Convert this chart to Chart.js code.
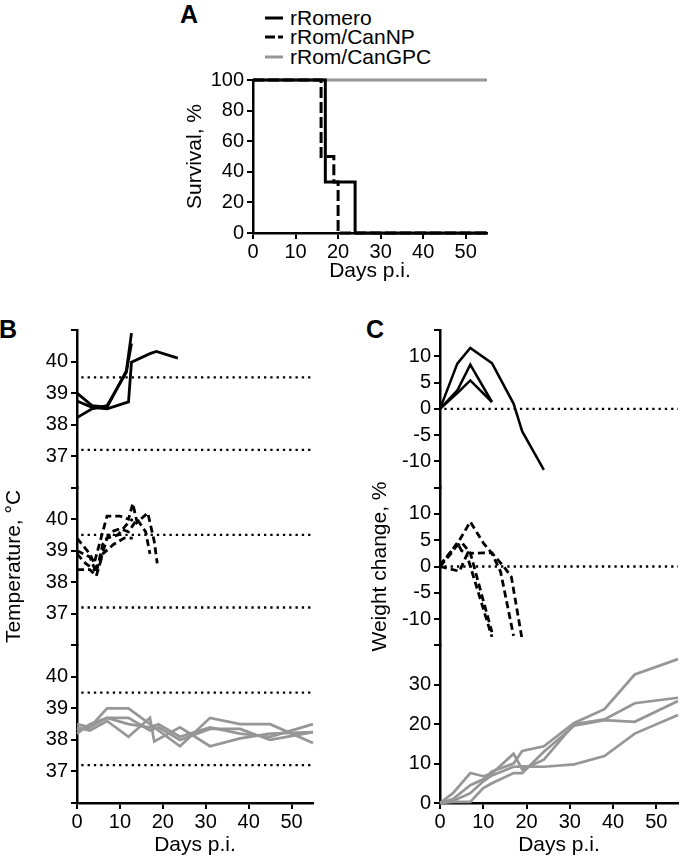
<!DOCTYPE html>
<html>
<head>
<meta charset="utf-8">
<script src="https://cdn.jsdelivr.net/npm/chart.js@4.4.1/dist/chart.umd.min.js"></script>
<style>
  body { margin: 0; background: #fff; width: 680px; height: 859px; position: relative; overflow: hidden;
         font-family: "Liberation Sans", Arial, sans-serif; color: #000; }
  canvas { position: absolute; }
  .tag { position: absolute; font-weight: bold; font-size: 25px; line-height: 25px; }
  #legendA { position: absolute; left: 265px; top: 8px; font-size: 21px; }
  #legendA div { display: flex; align-items: center; height: 19.5px; white-space: nowrap; }
  #legendA svg { margin-right: 7px; }
</style>
</head>
<body>
<div class="tag" style="left:180px;top:2px">A</div>
<div class="tag" style="left:-1px;top:317px">B</div>
<div class="tag" style="left:366px;top:317px">C</div>
<div id="legendA"></div>
<canvas id="chartA" width="330" height="225" style="left:170px;top:60px"></canvas>
<canvas id="chartB" width="330" height="549" style="left:0;top:310px"></canvas>
<canvas id="chartC" width="330" height="549" style="left:350px;top:310px"></canvas>
<script>
/* ================= DATA ================= */
const groups = ["rRomero", "rRom/CanNP", "rRom/CanGPC"];
const xTicks = [0, 10, 20, 30, 40, 50];
const dayMax = 55;
const refStart = 1;

// A - survival
const survTicks = [0, 20, 40, 60, 80, 100];
const survRomeroDays = [0, 17, 24, 55];
const survRomero = [100, 33.3, 0, 0];
const survNPDays = [0, 16, 19, 20, 55];
const survNP = [100, 50, 33.3, 0, 0];
const survGPCDays = [0, 55];
const survGPC = [100, 100];

// B - temperature (one block per virus)
const tempTicks = [36, 37, 38, 39, 40, 41];
const tempLabels = [37, 38, 39, 40];
const tempNormal = [39.5, 37.2];

const tempRomeroDays = [
  [0, 3.5, 7, 11.5, 12.7],
  [0, 3.5, 7, 12, 12.7, 17, 18.5, 23.5],
  [0, 3.5, 7, 11.5, 12.7]
];
const tempRomero = [
  [39.0, 38.6, 38.55, 39.7, 40.9],
  [38.75, 38.55, 38.5, 38.72, 39.98, 40.25, 40.32, 40.11],
  [38.22, 38.5, 38.6, 39.66, 40.57]
];

const tempNPDays = [
  [0, 3, 4, 6, 7, 10, 12, 13, 14, 16.5, 18, 18.7],
  [0, 3, 4.5, 6, 8, 10, 12, 14, 16, 17],
  [0, 3, 4.5, 6, 8.5, 11, 13],
  [0, 2, 4, 5.5, 7, 9.5, 12, 13]
];
const tempNP = [
  [39.4, 38.9, 38.6, 39.6, 40.1, 40.1, 40.0, 40.5, 39.9, 40.2, 39.3, 38.6],
  [39.0, 38.8, 38.3, 39.2, 39.6, 39.7, 39.6, 40.0, 39.6, 38.9],
  [38.4, 38.4, 38.2, 38.9, 39.2, 39.4, 39.4],
  [38.9, 38.6, 38.4, 38.7, 39.4, 39.5, 39.9, 40.0]
];

const tempGPCDays = [
  [0, 3, 7, 12, 17, 24, 31, 38, 45, 55],
  [0, 3, 7, 12, 17, 19, 24, 31, 38, 45, 55],
  [0, 3, 7, 12, 17, 18, 24, 31, 38, 45, 55],
  [0, 3, 7, 12, 17, 19, 24, 31, 38, 45, 55]
];
const tempGPC = [
  [38.3, 38.4, 39.0, 39.0, 38.5, 37.8, 38.7, 38.5, 38.5, 37.9],
  [38.5, 38.4, 38.7, 38.7, 38.3, 38.4, 38.0, 38.35, 38.35, 38.0, 38.25],
  [38.4, 38.3, 38.6, 38.1, 38.7, 37.95, 38.4, 37.8, 38.05, 38.2, 38.25],
  [38.2, 38.5, 38.7, 38.5, 38.4, 38.5, 38.1, 38.4, 38.2, 38.1, 38.5]
];

// C - weight change
const weightTicks = [-15, -10, -5, 0, 5, 10, 15];
const weightLabels = [-10, -5, 0, 5, 10];
const gainTicks = [0, 10, 20, 30, 40];
const gainLabels = [0, 10, 20, 30];
const weightBase = [0];

const weightRomeroDays = [
  [0, 4, 7, 12, 17, 19, 24],
  [0, 4, 7, 12],
  [0, 4, 7, 12]
];
const weightRomero = [
  [0, 8.6, 11.6, 8.7, 1.0, -4.3, -11.6],
  [0, 3.5, 8.4, 1.3],
  [0, 3.0, 5.4, 1.3]
];

const weightNPDays = [
  [0, 3, 7, 10, 12, 14, 17],
  [0, 4, 5, 7, 10, 12, 15, 16.5, 19],
  [0, 4.5, 6.2, 12],
  [0, 3, 5, 7, 12]
];
const weightNP = [
  [0, 2.9, 8.5, 4.5, 2.5, -1.0, -13.2],
  [0, 4.5, 3.0, 2.5, 2.6, 2.6, -0.3, -2.0, -14.0],
  [0, -0.9, 2.2, -13.4],
  [0.3, 3.3, 4.6, 2.6, -12.5]
];

const weightGPCDays = [0, 3, 7, 10, 12, 17, 19, 24, 31, 38, 45, 55];
const weightGPC = [
  [0, 1.0, 4.5, 6.0, 8.0, 10.0, 13.2, 14.4, 20.3, 23.8, 32.6, 36.5],
  [0, 2.5, 7.6, 6.8, 7.5, 12.5, 8.5, 11.0, 20.0, 21.2, 25.3, 26.7],
  [0, 0.3, 0.3, 3.8, 5.0, 7.6, 7.6, 13.0, 19.6, 21.0, 20.6, 25.9],
  [0, 0.5, 2.5, 5.5, 7.0, 9.2, 9.3, 9.2, 9.8, 11.9, 17.6, 22.3]
];

/* ================= STYLE ================= */
const groupColor = ["#000000", "#000000", "#969696"];
const groupDash = [[], [7, 4], []];
const axisWidth = 2.5;
const tickFont = 20;
const titleFont = 21;

Chart.defaults.font.family = '"Liberation Sans", Arial, sans-serif';
Chart.defaults.color = "#000";

const pts = (days, vals) => days.map((d, i) => ({ x: d, y: vals[i] }));

function lineSet(days, vals, group, axisId, width, dash) {
  return {
    label: "",
    data: pts(days, vals),
    yAxisID: axisId,
    borderColor: groupColor[group],
    borderDash: dash || groupDash[group],
    borderWidth: width,
    pointRadius: 0,
    tension: 0,
    fill: false,
    clip: false
  };
}

function refLine(value, axisId) {
  return {
    label: "",
    data: [{ x: refStart, y: value }, { x: dayMax, y: value }],
    yAxisID: axisId,
    borderColor: "#000",
    borderWidth: 2.3,
    borderDash: [2.3, 4],
    pointRadius: 0,
    clip: false
  };
}

function xAxis(height, titlePad) {
  return {
    type: "linear", min: 0, max: dayMax,
    afterBuildTicks: s => { s.ticks = xTicks.map(v => ({ value: v })); },
    afterFit: s => { s.height = height; },
    ticks: { padding: 1, font: { size: tickFont }, maxRotation: 0, autoSkip: false },
    grid: { drawOnChartArea: false, tickLength: 6, color: "#000", lineWidth: 2 },
    border: { color: "#000", width: axisWidth },
    title: { display: true, text: "Days p.i.", font: { size: titleFont }, padding: { top: 0, bottom: titlePad } }
  };
}

function yAxis(opts) {
  return {
    type: "linear", position: "left",
    stack: opts.stack, stackWeight: 1,
    min: opts.ticks[0], max: opts.ticks[opts.ticks.length - 1],
    afterBuildTicks: s => { s.ticks = opts.ticks.map(v => ({ value: v })); },
    afterFit: s => { s.width = opts.width; },
    ticks: {
      padding: 3, font: { size: tickFont }, autoSkip: false,
      callback: v => opts.labels.includes(v) ? String(v) : ""
    },
    grid: { drawOnChartArea: false, tickLength: 6, color: "#000", lineWidth: 2 },
    border: { color: "#000", width: axisWidth },
    title: {
      display: !!opts.title, text: opts.title || "", font: { size: titleFont },
      padding: { top: opts.titlePad || 0, bottom: 0 }
    }
  };
}

const baseOptions = (padding, scales) => ({
  responsive: false,
  animation: false,
  devicePixelRatio: 1,
  events: [],
  layout: { padding },
  plugins: { legend: { display: false }, tooltip: { enabled: false } },
  scales
});

/* ================= A: SURVIVAL ================= */
const chartA = new Chart(document.getElementById("chartA"), {
  type: "line",
  data: {
    datasets: [
      Object.assign(lineSet(survRomeroDays, survRomero, 0, "y", 3), { label: groups[0], stepped: true }),
      Object.assign(lineSet(survNPDays, survNP, 1, "y", 3, [11, 4]), { label: groups[1], stepped: true }),
      Object.assign(lineSet(survGPCDays, survGPC, 2, "y", 3), { label: groups[2], stepped: true })
    ]
  },
  options: baseOptions({ left: 0, top: 20, right: 13, bottom: 0 }, {
    x: xAxis(52, 1),
    y: yAxis({ ticks: survTicks, labels: survTicks, width: 83, title: "Survival, %", titlePad: 13 })
  })
});

// legend built from chart A datasets
const legendEl = document.getElementById("legendA");
chartA.data.datasets.forEach(ds => {
  const row = document.createElement("div");
  const dashed = ds.borderDash.length > 0;
  row.innerHTML =
    `<svg width="18" height="6"><line x1="0" y1="3" x2="18" y2="3" stroke="${ds.borderColor}" ` +
    `stroke-width="3"${dashed ? ' stroke-dasharray="10,3"' : ""}/></svg><span>${ds.label}</span>`;
  legendEl.appendChild(row);
});

/* ================= B: TEMPERATURE ================= */
const tempSets = [];
tempRomero.forEach((v, i) => tempSets.push(lineSet(tempRomeroDays[i], v, 0, "yRom", 2.8)));
tempNP.forEach((v, i) => tempSets.push(lineSet(tempNPDays[i], v, 1, "yNP", 2.8)));
tempGPC.forEach((v, i) => tempSets.push(lineSet(tempGPCDays[i], v, 2, "yGPC", 2.7)));
["yRom", "yNP", "yGPC"].forEach(id => tempNormal.forEach(t => tempSets.push(refLine(t, id))));

new Chart(document.getElementById("chartB"), {
  type: "line",
  data: { datasets: tempSets },
  options: baseOptions({ left: 0, top: 20, right: 17, bottom: 0 }, {
    x: xAxis(56, 1.4),
    yGPC: yAxis({ stack: "temp", ticks: tempTicks, labels: tempLabels, width: 77 }),
    yNP: yAxis({ stack: "temp", ticks: tempTicks, labels: tempLabels, width: 77, title: "Temperature, \u00B0C", titlePad: 1.4 }),
    yRom: yAxis({ stack: "temp", ticks: tempTicks, labels: tempLabels, width: 77 })
  })
});

/* ================= C: WEIGHT ================= */
const weightSets = [];
weightRomero.forEach((v, i) => weightSets.push(lineSet(weightRomeroDays[i], v, 0, "yRom", 2.5)));
weightNP.forEach((v, i) => weightSets.push(lineSet(weightNPDays[i], v, 1, "yNP", 2.8)));
weightGPC.forEach(v => weightSets.push(lineSet(weightGPCDays, v, 2, "yGPC", 2.7)));
["yRom", "yNP"].forEach(id => weightBase.forEach(w => weightSets.push(refLine(w, id))));

new Chart(document.getElementById("chartC"), {
  type: "line",
  data: { datasets: weightSets },
  options: baseOptions({ left: 0, top: 20, right: 2, bottom: 0 }, {
    x: xAxis(56, 1.4),
    yGPC: yAxis({ stack: "weight", ticks: gainTicks, labels: gainLabels, width: 90 }),
    yNP: yAxis({ stack: "weight", ticks: weightTicks, labels: weightLabels, width: 90, title: "Weight change, %", titlePad: 17.4 }),
    yRom: yAxis({ stack: "weight", ticks: weightTicks, labels: weightLabels, width: 90 })
  })
});
</script>
</body>
</html>
